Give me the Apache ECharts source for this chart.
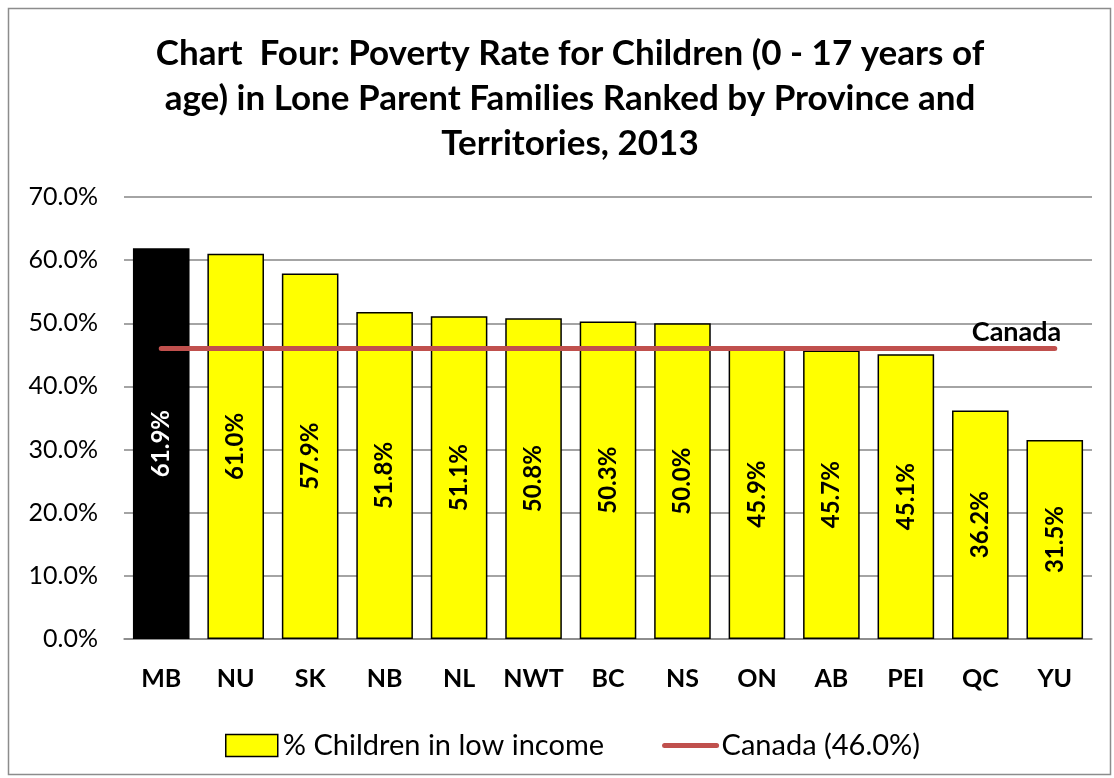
<!DOCTYPE html>
<html>
<head>
<meta charset="utf-8">
<script src="https://cdn.jsdelivr.net/npm/echarts@6/dist/echarts.min.js"></script>
<style>
html,body{margin:0;padding:0;background:#fff;}
#chart{width:1114px;height:778px;}
</style>
</head>
<body>
<div id="chart"></div>
<script>
const titleText = 'Chart  Four: Poverty Rate for Children (0 - 17 years of\nage) in Lone Parent Families Ranked by Province and\nTerritories, 2013';
const categories = ['MB','NU','SK','NB','NL','NWT','BC','NS','ON','AB','PEI','QC','YU'];
const childrenLowIncome = [61.9,61.0,57.9,51.8,51.1,50.8,50.3,50.0,45.9,45.7,45.1,36.2,31.5];
const canadaRate = 46.0;
const canadaLine = categories.map(() => canadaRate);
const barName = '% Children in low income';
const lineName = 'Canada (46.0%)';
const lineLabel = 'Canada';
const highlightCategory = 'MB';

const FONT = 'Lato, "Open Sans", sans-serif';
const chart = echarts.init(document.getElementById('chart'));
chart.setOption({
  backgroundColor: '#fff',
  animation: false,
  textStyle: { fontFamily: FONT },
  graphic: [{
    type: 'rect', left: 6, top: 6,
    shape: { width: 1102, height: 766 },
    style: { fill: 'none', stroke: '#8c8c8c', lineWidth: 1.5 },
    silent: true
  }],
  title: {
    text: titleText,
    left: 565, top: 26, textAlign: 'center',
    textStyle: { fontFamily: FONT, fontSize: 35, fontWeight: 'bold', color: '#000', lineHeight: 45 }
  },
  legend: {
    left: 220, top: 726,
    itemWidth: 52, itemHeight: 22, itemGap: 58,
    textStyle: { fontFamily: FONT, fontSize: 29, color: '#000' },
    data: [
      { name: barName, icon: 'rect', itemStyle: { color: '#ffff00', borderColor: '#000', borderWidth: 1.5 } },
      { name: lineName, itemStyle: { opacity: 0 }, lineStyle: { color: '#c0504d', width: 5, cap: 'round' } }
    ]
  },
  grid: { left: 124, right: 22, top: 197, bottom: 139, containLabel: false },
  xAxis: {
    type: 'category', data: categories,
    axisLine: { lineStyle: { color: '#868686', width: 1.5 } },
    axisTick: { show: false },
    axisLabel: { interval: 0, margin: 27, fontFamily: FONT, fontSize: 25, fontWeight: 'bold', color: '#000' }
  },
  yAxis: {
    type: 'value', min: 0, max: 70, interval: 10,
    axisLine: { show: false }, axisTick: { show: false },
    axisLabel: { margin: 26, fontFamily: FONT, fontSize: 25, color: '#000', formatter: v => v.toFixed(1) + '%' },
    splitLine: { lineStyle: { color: '#868686', width: 1.5 } }
  },
  series: [
    {
      name: barName, type: 'bar', barCategoryGap: '24%',
      data: childrenLowIncome.map((v, i) => categories[i] === highlightCategory
        ? { value: v, itemStyle: { color: '#000' }, label: { color: '#fff' } }
        : v),
      itemStyle: { color: '#ffff00', borderColor: '#000', borderWidth: 1.5 },
      label: {
        show: true, position: 'inside', rotate: 90,
        fontFamily: FONT, fontSize: 24, fontWeight: 'bold', color: '#000',
        formatter: p => p.value.toFixed(1) + '%'
      },
      z: 2
    },
    {
      name: lineName, type: 'line', data: canadaLine,
      symbol: 'none',
      lineStyle: { color: '#c0504d', width: 5, cap: 'round' },
      itemStyle: { color: '#c0504d' },
      endLabel: {
        show: true, formatter: lineLabel, distance: 0, offset: [-83, -16],
        fontFamily: FONT, fontSize: 27, fontWeight: 'bold', color: '#000'
      },
      z: 5
    }
  ]
});
</script>
</body>
</html>
